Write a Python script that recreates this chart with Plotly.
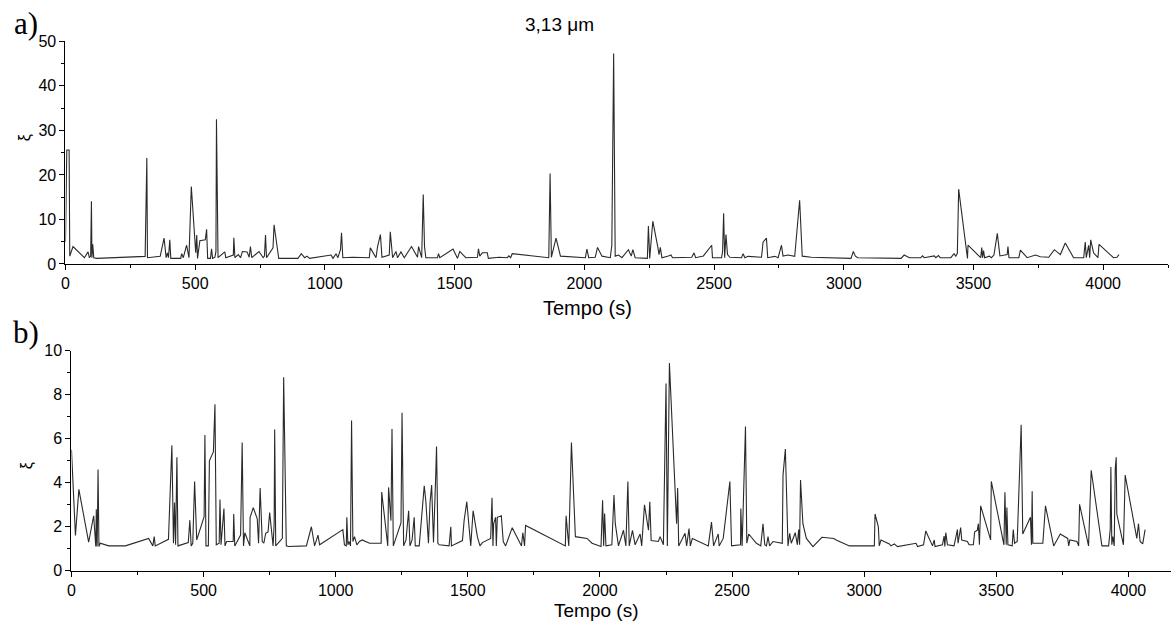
import plotly.graph_objects as go

# ---------------- data: panel a) ----------------
top_t = [0, 5, 14, 16.5, 29, 73, 87, 92, 97, 100, 102, 105, 109, 121, 307, 313.6, 316, 365, 380, 388, 393, 397,
         402, 406, 444, 448, 454, 467, 476, 485, 502, 506, 509, 518, 539, 544, 548, 559, 563, 567, 576, 580, 582,
         588, 614, 618, 647, 649, 653, 666, 675, 682, 700, 708, 713, 718, 746, 762, 767, 771, 775, 800, 804, 822,
         896, 909, 922, 931, 941, 1024, 1031, 1043, 1050, 1060, 1064, 1069, 1107, 1171, 1175, 1197, 1203, 1214,
         1220, 1248, 1252, 1261, 1274, 1280, 1293, 1306, 1334, 1357, 1361, 1373, 1379, 1384, 1389, 1434, 1438,
         1443, 1494, 1511, 1520, 1543, 1588, 1592, 1597, 1607, 1626, 1630, 1671, 1703, 1709, 1716, 1722, 1863,
         1868, 1873, 1891, 1908, 2004, 2010, 2017, 2042, 2051, 2068, 2100, 2106, 2113, 2119, 2132, 2145, 2170,
         2181, 2187, 2196, 2243, 2247, 2252, 2264, 2283, 2288, 2293, 2299, 2324, 2334, 2340, 2414, 2423, 2429,
         2459, 2491, 2494, 2529, 2533, 2537, 2541, 2546, 2552, 2561, 2606, 2612, 2619, 2631, 2683, 2689, 2702,
         2707, 2734, 2747, 2760, 2766, 2785, 2811, 2830, 2840, 2875, 2964, 3028, 3037, 3045, 3054, 3221, 3233,
         3253, 3297, 3304, 3310, 3349, 3355, 3365, 3372, 3413, 3425, 3432, 3438, 3443, 3477, 3479, 3528, 3532,
         3535, 3539, 3543, 3561, 3569, 3579, 3592, 3602, 3630, 3633, 3637, 3675, 3681, 3707, 3739, 3758, 3790,
         3812, 3835, 3854, 3886, 3925, 3931, 3935, 3944, 3948, 3952, 3963, 3980, 3984, 4027, 4040, 4053, 4061]
top_xi = [5.0, 25.6, 25.6, 1.75, 3.9, 1.4, 2.7, 1.4, 1.75, 14.1, 1.4, 4.4, 1.4, 1.25, 1.7, 23.8, 1.4, 1.7, 5.8, 1.4,
          2.5, 1.4, 5.4, 1.25, 1.25, 2.3, 1.4, 4.2, 1.4, 17.4, 2.5, 6.5, 1.25, 5.2, 5.4, 7.8, 1.25, 1.25, 3.4, 1.25,
          1.5, 2.8, 32.5, 1.4, 2.7, 1.4, 2.0, 5.9, 1.4, 2.1, 1.4, 2.8, 2.7, 1.5, 3.9, 1.4, 2.8, 1.4, 1.75, 6.5, 1.4,
          3.6, 8.8, 1.25, 1.25, 2.3, 1.4, 1.75, 1.25, 2.0, 1.25, 2.3, 1.4, 3.2, 7.0, 1.4, 1.5, 1.4, 3.6, 1.4, 3.9,
          6.6, 1.5, 2.0, 7.2, 1.4, 2.8, 1.4, 2.7, 1.4, 3.9, 1.5, 3.9, 1.4, 15.6, 3.9, 1.4, 1.4, 2.3, 1.4, 3.35,
          1.25, 2.8, 1.4, 1.5, 3.4, 1.75, 2.5, 2.5, 1.25, 1.5, 1.4, 1.8, 1.4, 2.3, 1.4, 20.3, 1.5, 5.8, 1.75, 1.4,
          3.35, 1.4, 1.5, 3.7, 1.75, 1.4, 4.2, 47.3, 1.75, 2.0, 1.4, 3.2, 1.75, 3.2, 1.4, 1.25, 8.5, 1.25, 9.6, 3.9,
          2.1, 3.7, 1.4, 1.8, 2.0, 1.4, 1.5, 2.5, 1.4, 1.8, 4.2, 1.4, 1.4, 2.8, 11.4, 1.4, 6.6, 2.1, 1.5, 1.4, 2.3,
          1.4, 1.7, 1.5, 4.9, 5.8, 1.4, 1.7, 1.4, 4.2, 1.75, 2.0, 1.7, 14.3, 1.75, 1.5, 1.4, 1.25, 2.8, 1.75, 1.4,
          1.25, 2.0, 1.4, 1.4, 1.8, 1.4, 1.8, 1.4, 1.9, 1.4, 1.4, 2.3, 1.75, 2.4, 16.8, 1.25, 4.2, 1.4, 3.7, 1.4,
          3.0, 1.4, 1.75, 1.4, 2.0, 6.85, 1.8, 2.1, 3.9, 1.4, 1.4, 3.1, 1.4, 2.0, 1.6, 1.5, 3.2, 2.1, 4.7, 1.4, 1.4,
          4.9, 1.4, 4.2, 1.4, 5.4, 2.5, 1.4, 4.4, 2.1, 1.4, 1.5, 2.1]

# ---------------- data: panel b) ----------------
bot_t = [0, 15, 28, 65, 84, 92, 94, 97, 98, 100.6, 104, 109, 122, 141, 204, 292, 308, 313, 317, 367, 380, 386, 390,
         394, 399, 403, 442, 448, 453, 459, 466, 474, 502, 505, 509, 518, 522, 537, 543, 548, 559, 562, 566, 577,
         581, 587, 612, 614, 618, 640, 646, 651, 656, 675, 676, 688, 703, 708, 714, 722, 728, 735, 744, 750, 763,
         767, 769, 773, 798, 803, 813, 821, 889, 908, 920, 933, 939, 1027, 1033, 1040, 1042, 1046, 1050, 1056,
         1060, 1065, 1071, 1080, 1090, 1100, 1128, 1172, 1174, 1197, 1200, 1209, 1213, 1218, 1247, 1251, 1257,
         1266, 1276, 1281, 1289, 1297, 1301, 1316, 1335, 1341, 1351, 1357, 1363, 1370, 1379, 1381.5, 1384,
         1386.5, 1391.6, 1429, 1435.6, 1438, 1479.6, 1485.9, 1496, 1511, 1520, 1536, 1546, 1555, 1586.4, 1591.5,
         1595, 1597.7, 1605, 1607.8, 1611.6, 1626.7, 1634, 1643, 1668, 1703, 1708, 1714.7, 1718.4, 1869, 1871.8,
         1882, 1892, 1907, 1951, 1970, 2004, 2010, 2014, 2017.6, 2022.7, 2045, 2053, 2058, 2070, 2089, 2098,
         2105.7, 2110.7, 2123, 2133, 2152, 2158, 2168.5, 2183.6, 2188.6, 2193.7, 2221, 2227.6, 2240, 2250, 2255,
         2262.8, 2290, 2294, 2298, 2322, 2328, 2337, 2342, 2349.5, 2410, 2422, 2430, 2447.6, 2451, 2466.5,
         2491.6, 2498, 2532, 2533, 2538, 2550.7, 2555.7, 2563, 2580, 2592, 2608.5, 2617, 2623.6, 2630, 2636,
         2642, 2655, 2690, 2692.8, 2701.6, 2711.6, 2718, 2724, 2739, 2747, 2752, 2755.5, 2759, 2768, 2781, 2806,
         2840, 2885, 2894, 2944, 3038.4, 3041, 3053.5, 3057, 3063.5, 3095, 3101, 3114, 3126, 3196, 3202, 3224.5,
         3233, 3258.4, 3265, 3268, 3296, 3302.4, 3305, 3308.7, 3315, 3340, 3352.7, 3355, 3365, 3369, 3390.4,
         3397, 3413, 3418, 3428, 3432, 3436, 3440.7, 3478.4, 3481, 3528.7, 3532.5, 3537.5, 3540, 3543.8, 3560,
         3564, 3569, 3579, 3594, 3600, 3629, 3633, 3635.6, 3638, 3676, 3686, 3717, 3742, 3770, 3774, 3778, 3805,
         3811.6, 3815, 3849, 3859, 3899.6, 3925, 3931, 3933.5, 3937, 3941, 3946, 3950, 3953.6, 3956, 3981,
         3987.6, 4031.6, 4038, 4044, 4054, 4063]
bot_xi = [5.5, 1.6, 3.7, 1.3, 2.5, 1.1, 2.8, 1.1, 1.8, 4.6, 1.1, 1.25, 1.2, 1.13, 1.13, 1.47, 1.13, 1.55, 1.13, 1.43,
          5.7, 1.25, 3.1, 1.18, 5.16, 1.13, 1.28, 2.3, 1.13, 1.25, 4.06, 1.4, 2.46, 6.17, 1.13, 1.13, 5.0, 5.4,
          7.57, 1.18, 1.25, 3.24, 1.18, 2.83, 1.13, 1.33, 1.33, 2.58, 1.13, 1.62, 5.83, 1.13, 1.73, 1.13, 2.43,
          2.87, 2.36, 1.25, 3.76, 1.33, 1.25, 1.7, 1.77, 2.65, 1.13, 2.14, 6.42, 1.13, 1.47, 8.8, 1.13, 1.1, 1.13,
          2.0, 1.13, 1.62, 1.18, 1.87, 1.18, 1.13, 2.43, 1.18, 1.33, 1.13, 6.83, 1.33, 1.55, 1.18, 1.33, 1.4,
          1.25, 1.25, 3.58, 1.13, 3.79, 2.28, 6.45, 1.13, 2.17, 7.18, 1.13, 1.4, 2.73, 1.13, 1.4, 2.43, 1.13,
          1.13, 3.86, 3.17, 1.25, 3.1, 3.9, 1.28, 4.54, 5.65, 3.76, 1.25, 1.18, 1.13, 2.0, 1.13, 1.37, 2.28,
          3.14, 1.13, 2.73, 1.55, 1.13, 1.28, 1.47, 3.32, 1.13, 2.14, 2.43, 1.13, 2.43, 2.5, 1.33, 1.13, 1.96,
          1.13, 1.73, 1.13, 2.06, 1.13, 2.5, 1.13, 5.83, 1.55, 1.47, 1.25, 1.1, 3.2, 1.13, 2.6, 1.13, 1.18, 3.44,
          2.14, 1.13, 1.84, 1.13, 4.06, 1.13, 1.84, 1.18, 1.67, 1.13, 3.0, 1.84, 3.14, 1.37, 1.33, 1.55, 1.18,
          8.51, 1.13, 9.44, 2.14, 3.76, 1.13, 1.7, 1.13, 1.92, 1.13, 1.47, 1.13, 2.21, 1.13, 1.67, 1.13, 1.47,
          4.06, 1.13, 1.18, 2.83, 1.13, 6.56, 1.25, 1.67, 1.4, 1.25, 1.13, 2.14, 1.18, 1.13, 1.55, 1.13, 1.33,
          1.25, 4.35, 5.53, 1.13, 1.7, 1.25, 1.73, 1.18, 1.87, 1.18, 4.13, 2.14, 1.47, 1.1, 1.52, 1.47, 1.4, 1.13,
          1.13, 2.58, 2.0, 1.13, 1.4, 1.22, 1.13, 1.22, 1.1, 1.25, 1.1, 1.18, 1.81, 1.13, 1.4, 1.1, 1.18, 1.58,
          1.1, 1.73, 1.18, 1.13, 1.87, 1.25, 1.96, 1.4, 1.33, 1.18, 1.18, 1.77, 1.84, 2.14, 1.18, 2.95, 1.4, 4.06,
          1.18, 3.57, 1.18, 2.88, 1.18, 1.13, 1.87, 1.25, 1.33, 6.64, 1.67, 2.43, 1.18, 3.61, 1.25, 1.25, 2.95,
          1.13, 1.67, 1.47, 1.13, 1.4, 1.33, 1.13, 3.02, 1.13, 4.57, 1.13, 1.13, 1.87, 4.72, 1.18, 1.55, 1.13,
          4.65, 5.16, 2.58, 1.18, 4.35, 1.47, 2.14, 1.33, 1.22, 1.87]

x_ticks = [0, 500, 1000, 1500, 2000, 2500, 3000, 3500, 4000]
W, H = 1171, 632
LINE = "#2a2a2a"
FONT = "Liberation Sans, Arial, sans-serif"

fig = go.Figure()
fig.add_trace(go.Scatter(x=top_t, y=top_xi, mode="lines", line=dict(color=LINE, width=1.1),
                         xaxis="x", yaxis="y", showlegend=False))
fig.add_trace(go.Scatter(x=bot_t, y=bot_xi, mode="lines", line=dict(color=LINE, width=1.1),
                         xaxis="x2", yaxis="y2", showlegend=False))

axis_common = dict(showline=True, linecolor="black", linewidth=1.2, ticks="outside", ticklen=5,
                   tickwidth=1, tickcolor="black", showgrid=False, zeroline=False,
                   tickfont=dict(family=FONT, size=16, color="black"))

fig.update_layout(
    width=W, height=H, margin=dict(l=0, r=0, t=0, b=0),
    paper_bgcolor="white", plot_bgcolor="white",
    xaxis=dict(domain=[61.7 / W, 1168 / W], range=[0, 4250], anchor="y", tickvals=x_ticks,
               minor=dict(dtick=250, ticklen=3, ticks="outside", tickcolor="black"), **axis_common),
    yaxis=dict(domain=[1 - 263 / H, 1 - 34.3 / H], range=[0, 50], anchor="x", dtick=10,
               minor=dict(dtick=5, ticklen=3, ticks="outside", tickcolor="black"), **axis_common),
    xaxis2=dict(domain=[67.7 / W, 1.0], range=[0, 4161], anchor="y2", tickvals=x_ticks,
                minor=dict(dtick=250, ticklen=3, ticks="outside", tickcolor="black"), **axis_common),
    yaxis2=dict(domain=[1 - 578.3 / H, 1 - 352.3 / H], range=[0, 10], anchor="x2", dtick=2,
                minor=dict(dtick=1, ticklen=3, ticks="outside", tickcolor="black"), **axis_common),
)

def ann(text, px, py, size, family=FONT, angle=0):
    fig.add_annotation(text=text, x=px / W, y=1 - py / H, xref="paper", yref="paper",
                       showarrow=False, textangle=angle, xanchor="center", yanchor="middle",
                       font=dict(family=family, size=size, color="black"))

ann("a)", 22, 16, 31, family="Liberation Serif, Times New Roman, serif")
ann("b)", 22, 333, 31, family="Liberation Serif, Times New Roman, serif")
ann("3,13 μm", 557, 17, 19)
ann("Tempo (s)", 585, 308, 20)
ann("Tempo (s)", 594, 619, 19)
ann("ξ", 21, 133, 16, angle=-90)
ann("ξ", 23, 470, 16, angle=-90)

fig.write_html("out.html")
